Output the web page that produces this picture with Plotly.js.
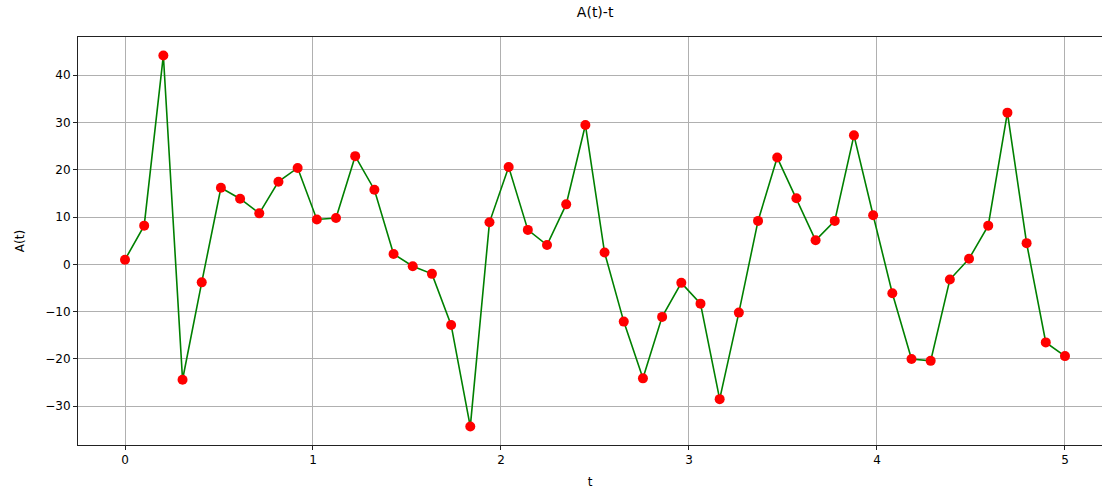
<!DOCTYPE html>
<html>
<head>
<meta charset="utf-8">
<script src="https://cdn.plot.ly/plotly-3.0.1.min.js"></script>
<style>html,body{margin:0;padding:0;background:#fff;}#chart{width:1103px;height:489px;}</style>
</head>
<body>
<div id="chart"></div>
<script>
const N = 50;
const tStart = 0, tEnd = 5;
const tValues = Array.from({length: N}, (_, i) => tStart + (tEnd - tStart) * i / (N - 1));
const aValues = [
  1.0, 8.2, 44.2, -24.4, -3.8, 16.2, 13.9, 10.8, 17.5, 20.4,
  9.5, 9.8, 22.9, 15.8, 2.2, -0.4, -2.0, -12.8, -34.3, 8.9,
  20.6, 7.3, 4.1, 12.7, 29.5, 2.5, -12.1, -24.1, -11.1, -3.9,
  -8.3, -28.5, -10.2, 9.2, 22.6, 14.0, 5.1, 9.2, 27.3, 10.4,
  -6.1, -20.0, -20.4, -3.2, 1.2, 8.2, 32.1, 4.5, -16.5, -19.4
];
const xTicks = [0, 1, 2, 3, 4, 5];
const yTicks = [-30, -20, -10, 0, 10, 20, 30, 40];

const font = {family: 'DejaVu Sans', size: 12, color: '#000'};

Plotly.newPlot('chart', [
  {x: tValues, y: aValues, type: 'scatter', mode: 'lines', line: {color: 'green', width: 1.6}, hoverinfo: 'skip'},
  {x: tValues, y: aValues, type: 'scatter', mode: 'markers', marker: {color: 'red', size: 10}, hoverinfo: 'skip'}
], {
  width: 1103, height: 489,
  margin: {l: 78, r: 1, t: 37, b: 44},
  paper_bgcolor: '#fff', plot_bgcolor: '#fff',
  showlegend: false,
  font: font,
  title: {text: 'A(t)-t', font: {family: 'DejaVu Sans', size: 14, color: '#000'}, x: 0.505, xref: 'paper', y: 1, yref: 'paper', yanchor: 'bottom', pad: {b: 20}},
  xaxis: {
    range: [-0.25, 5.197], tickvals: xTicks, ticktext: xTicks.map(String),
    showgrid: true, gridcolor: '#b0b0b0', gridwidth: 1,
    zeroline: false, showline: true, linecolor: '#222', linewidth: 1, mirror: true,
    ticks: 'outside', ticklen: 4, tickcolor: '#222', tickfont: font,
    title: {text: 't', font: font, standoff: 11}
  },
  yaxis: {
    range: [-38.2, 48.1], tickvals: yTicks, ticktext: yTicks.map(v => v < 0 ? '\u2212' + Math.abs(v) : String(v)),
    showgrid: true, gridcolor: '#b0b0b0', gridwidth: 1,
    zeroline: false, showline: true, linecolor: '#222', linewidth: 1, mirror: false,
    ticks: 'outside', ticklen: 4, tickcolor: '#222', tickfont: font,
    title: {text: 'A(t)', font: font, standoff: 18}
  }
}, {displayModeBar: false, staticPlot: true});
</script>
</body>
</html>
